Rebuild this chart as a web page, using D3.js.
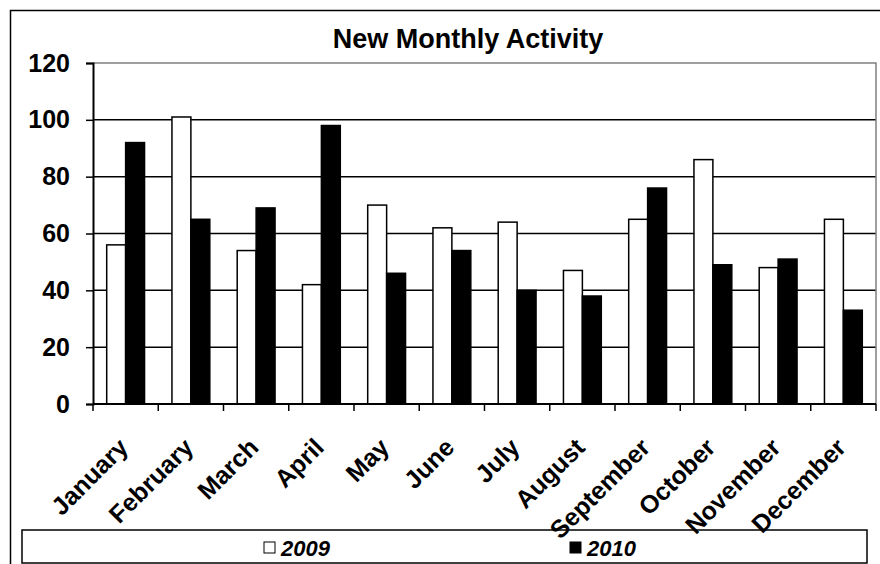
<!DOCTYPE html>
<html>
<head>
<meta charset="utf-8">
<script src="https://cdn.jsdelivr.net/npm/d3@7"></script>
<style>
  body { margin: 0; background: #fff; }
  svg { display: block; font-family: Arial, "Liberation Sans", sans-serif; }
</style>
</head>
<body>
<svg width="880" height="564"></svg>
<script>
// chart data
const months = ["January", "February", "March", "April", "May", "June",
                "July", "August", "September", "October", "November", "December"]
const series = ["2009", "2010"]
const values2009 = [56, 101, 54, 42, 70, 62, 64, 47, 65, 86, 48, 65]
const values2010 = [92, 65, 69, 98, 46, 54, 40, 38, 76, 49, 51, 33]
const yTicks = [0, 20, 40, 60, 80, 100, 120]

const rows = months.map((m, i) => ({ month: m, "2009": values2009[i], "2010": values2010[i] }))

const svg = d3.select("svg")
const plotL = 93, plotR = 876, plotT = 63, plotB = 404

// outer chart border (runs off the picture on the right and bottom)
svg.append("rect")
  .attr("x", 10.5).attr("y", 10.5).attr("width", 940).attr("height", 600)
  .attr("fill", "#fff").attr("stroke", "#000").attr("stroke-width", 1.5)

svg.append("text")
  .attr("x", 468).attr("y", 48)
  .attr("text-anchor", "middle")
  .style("font-size", "27px").style("font-weight", "bold")
  .text("New Monthly Activity")

const x = d3.scaleBand().domain(months).range([plotL, plotR])
  .paddingInner(0.42).paddingOuter(0.21)
const xs = d3.scaleBand().domain(series).range([0, x.bandwidth()])
const y = d3.scaleLinear().domain([0, 120]).range([plotB, plotT])

// gridlines
svg.append("g").selectAll("line")
  .data(yTicks.filter(d => d > 0 && d < 120)).enter()
  .append("line")
  .attr("x1", plotL).attr("x2", plotR)
  .attr("y1", d => y(d)).attr("y2", d => y(d))
  .attr("stroke", "#000").attr("stroke-width", 1.5)

// plot area border (grey)
svg.append("path")
  .attr("d", `M${plotL},${plotT}H${plotR}V${plotB}`)
  .attr("fill", "none").attr("stroke", "#808080").attr("stroke-width", 1.5)

// bars
const groups = svg.append("g").selectAll("g")
  .data(rows).enter()
  .append("g")
  .attr("transform", d => `translate(${x(d.month)},0)`)

groups.selectAll("rect")
  .data(d => series.map(s => ({ key: s, value: d[s] }))).enter()
  .append("rect")
  .attr("x", d => xs(d.key))
  .attr("width", xs.bandwidth())
  .attr("y", d => y(d.value))
  .attr("height", d => y(0) - y(d.value))
  .attr("fill", d => d.key === "2009" ? "#fff" : "#000")
  .attr("stroke", "#000").attr("stroke-width", 1.5)

// y axis
const yAxis = svg.append("g")
  .attr("transform", `translate(${plotL},0)`)
  .call(d3.axisLeft(y).tickValues(yTicks).tickSize(7).tickPadding(16))
yAxis.select(".domain").attr("stroke-width", 2)
yAxis.selectAll(".tick line").attr("stroke-width", 1.5)
yAxis.selectAll("text")
  .style("font-size", "25px").style("font-weight", "bold")
  .attr("fill", "#000")

// x axis: ticks at category boundaries
const xAxisG = svg.append("g")
xAxisG.append("line")
  .attr("x1", plotL).attr("x2", plotR)
  .attr("y1", plotB).attr("y2", plotB)
  .attr("stroke", "#000").attr("stroke-width", 2)
const step = x.step()
xAxisG.selectAll("line.tick")
  .data(d3.range(months.length + 1)).enter()
  .append("line").attr("class", "tick")
  .attr("x1", i => plotL + i * step).attr("x2", i => plotL + i * step)
  .attr("y1", plotB).attr("y2", plotB + 7)
  .attr("stroke", "#000").attr("stroke-width", 1.5)

// legend
svg.append("rect")
  .attr("x", 22).attr("y", 530).attr("width", 845).attr("height", 33)
  .attr("fill", "#fff").attr("stroke", "#000").attr("stroke-width", 1.5)

const legendX = { "2009": 264, "2010": 570 }
const legend = svg.append("g").selectAll("g")
  .data(series).enter()
  .append("g")
  .attr("transform", d => `translate(${legendX[d]},0)`)
legend.append("rect")
  .attr("x", 0).attr("y", 542).attr("width", 11).attr("height", 11)
  .attr("fill", d => d === "2009" ? "#fff" : "#000")
  .attr("stroke", "#000").attr("stroke-width", 1)
legend.append("text")
  .attr("x", 17).attr("y", 556)
  .style("font-size", "22px").style("font-weight", "bold").style("font-style", "italic")
  .text(d => d)

// month labels drawn last, they run over the legend box
svg.append("g").selectAll("text")
  .data(months).enter()
  .append("text")
  .attr("transform", d => `translate(${x(d) + x.bandwidth() / 2 + 4},${plotB + 45}) rotate(-45)`)
  .attr("text-anchor", "end")
  .style("font-size", "25px").style("font-weight", "bold")
  .text(d => d)
</script>
</body>
</html>
